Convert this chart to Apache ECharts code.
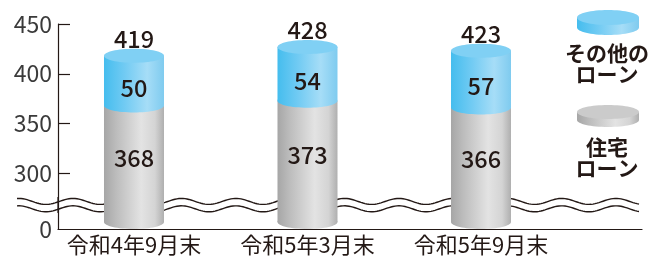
<!DOCTYPE html>
<html>
<head>
<meta charset="utf-8">
<script src="https://cdn.jsdelivr.net/npm/echarts@6/dist/echarts.min.js"></script>
<style>
  html, body { margin: 0; padding: 0; background: #fff; }
  #main { width: 648px; height: 258px; }
</style>
</head>
<body>
<div id="main"></div>
<script>
// データ
const categories = ['令和4年9月末', '令和5年3月末', '令和5年9月末']
const housingLoan = [368, 373, 366]
const otherLoan = [50, 54, 57]
const totals = [419, 428, 423]
const yTicks = [300, 350, 400, 450]

const yMin = 244,
  yMax = 450,
  breakValue = 268,
  textColor = '#231815',
  font = '"Noto Sans CJK JP", "Noto Sans", sans-serif'

const grayGrad = {
  type: 'linear', x: 0, y: 0, x2: 1, y2: 0,
  colorStops: [
    { offset: 0, color: '#a6a6a6' },
    { offset: 0.2, color: '#bcbcbc' },
    { offset: 0.62, color: '#e3e3e3' },
    { offset: 0.85, color: '#d4d4d4' },
    { offset: 1, color: '#afafaf' },
  ],
}
const blueGrad = {
  type: 'linear', x: 0, y: 0, x2: 1, y2: 0,
  colorStops: [
    { offset: 0, color: '#45bdee' },
    { offset: 0.35, color: '#72cbf3' },
    { offset: 0.72, color: '#a6ddf7' },
    { offset: 1, color: '#7fcbef' },
  ],
}
const blueTop = '#80d0f4'
const grayTop = '#cbcbcb'

let chart = echarts.init(document.getElementById('main'), null, { renderer: 'canvas' })

// 円柱を描く
function cylinder(side, top, labelOffset) {
  return (params, api) => {
    let i = api.value(0),
      lo = api.value(1),
      hi = api.value(2),
      pLo = api.coord([i, lo]),
      pHi = api.coord([i, hi]),
      w = 60,
      ry = 7,
      cx = pLo[0],
      isBase = lo === yMin,
      yBottom = isBase ? pLo[1] - ry : pLo[1],
      children = [
        { type: 'ellipse', shape: { cx, cy: yBottom, rx: w / 2, ry }, style: { fill: side } },
        { type: 'rect', shape: { x: cx - w / 2, y: pHi[1], width: w, height: yBottom - pHi[1] }, style: { fill: side } },
      ]
    if (top) {
      children.push({ type: 'ellipse', shape: { cx, cy: pHi[1], rx: w / 2, ry }, style: { fill: top } })
      children.push({
        type: 'text',
        style: {
          x: cx, y: pHi[1] - 16.5, text: String(totals[i]),
          align: 'center', verticalAlign: 'middle',
          fill: textColor, font: `500 23.5px ${font}`,
        },
      })
    }
    children.push({
      type: 'text',
      style: {
        x: cx, y: (yBottom + pHi[1]) / 2 + labelOffset,
        text: String(isBase ? housingLoan[i] : otherLoan[i]),
        align: 'center', verticalAlign: 'middle',
        fill: textColor, font: `500 23.5px ${font}`,
      },
    })
    return { type: 'group', children }
  }
}

const option = {
  animation: false,
  backgroundColor: '#fff',
  grid: { left: 58, right: 6, top: 24, bottom: 29, outerBoundsMode: 'none' },
  xAxis: {
    type: 'value',
    min: -0.438,
    max: 2.928,
    splitLine: { show: false },
    axisTick: { show: false },
    axisLine: { show: true, onZero: false, lineStyle: { color: textColor, width: 1.2 } },
    axisLabel: {
      customValues: [0, 1, 2],
      formatter: (v) => categories[Math.round(v)],
      color: textColor,
      fontSize: 22,
      fontFamily: font,
      margin: 5,
    },
  },
  yAxis: {
    type: 'value',
    min: yMin,
    max: yMax,
    splitLine: { show: false },
    axisLine: { show: true, onZero: false, lineStyle: { color: textColor, width: 1.2 } },
    axisTick: {
      show: true, inside: true, length: 12,
      customValues: yTicks,
      lineStyle: { color: textColor, width: 1.2 },
    },
    axisLabel: {
      customValues: [yMin].concat(yTicks),
      formatter: (v) => (v === yMin ? '0' : String(v)),
      color: '#3a3a3a',
      fontSize: 23,
      fontFamily: font,
      margin: 6,
    },
  },
  series: [
    {
      name: '住宅ローン',
      type: 'custom',
      renderItem: cylinder(grayGrad, null, -6),
      data: categories.map((c, i) => [i, yMin, housingLoan[i]]),
    },
    {
      name: 'その他のローン',
      type: 'custom',
      renderItem: cylinder(blueGrad, blueTop, 7),
      data: categories.map((c, i) => [i, housingLoan[i], housingLoan[i] + otherLoan[i]]),
    },
  ],
}
chart.setOption(option)

// 省略線（波線）と凡例
let axisX = chart.convertToPixel({ xAxisIndex: 0 }, -0.438),
  breakY = chart.convertToPixel({ yAxisIndex: 0 }, breakValue),
  wave = (dy) => {
    let pts = []
    for (let x = 17; x <= 640; x += 2) {
      pts.push([x, breakY + dy - 3 * Math.sin(((x - 73) / 54.3) * 2 * Math.PI + Math.PI / 2)])
    }
    return pts
  },
  upper = wave(-3.7),
  lower = wave(3.7)

function disk(cx, top, w, h, ry, side, topColor) {
  return [
    { type: 'ellipse', shape: { cx, cy: top + ry + h, rx: w / 2, ry }, style: { fill: side } },
    { type: 'rect', shape: { x: cx - w / 2, y: top + ry, width: w, height: h }, style: { fill: side } },
    { type: 'ellipse', shape: { cx, cy: top + ry, rx: w / 2, ry }, style: { fill: topColor } },
  ]
}

function legendText(cx, cy, lines) {
  return lines.map((t, k) => ({
    type: 'text',
    style: {
      x: cx, y: cy + k * 21, text: t,
      align: 'center', verticalAlign: 'middle',
      fill: textColor, font: `bold 21px ${font}`,
    },
  }))
}

chart.setOption({
  graphic: [
    {
      type: 'group',
      z: 100,
      children: [
        { type: 'polygon', shape: { points: upper.concat(lower.slice().reverse()) }, style: { fill: '#fff' } },
        { type: 'line', shape: { x1: axisX, y1: breakY - 8, x2: axisX, y2: breakY + 8 }, style: { stroke: textColor, lineWidth: 1.2 } },
        { type: 'polyline', shape: { points: upper }, style: { stroke: textColor, lineWidth: 1.4, fill: null } },
        { type: 'polyline', shape: { points: lower }, style: { stroke: textColor, lineWidth: 1.4, fill: null } },
      ],
    },
    {
      type: 'group',
      z: 100,
      children: []
        .concat(disk(608, 10, 62, 10, 7.5, blueGrad, blueTop))
        .concat(legendText(607, 53.5, ['その他の', 'ローン']))
        .concat(disk(608, 105, 62, 8, 7, grayGrad, grayTop))
        .concat(legendText(607, 147.5, ['住宅', 'ローン'])),
    },
  ],
})
</script>
</body>
</html>
